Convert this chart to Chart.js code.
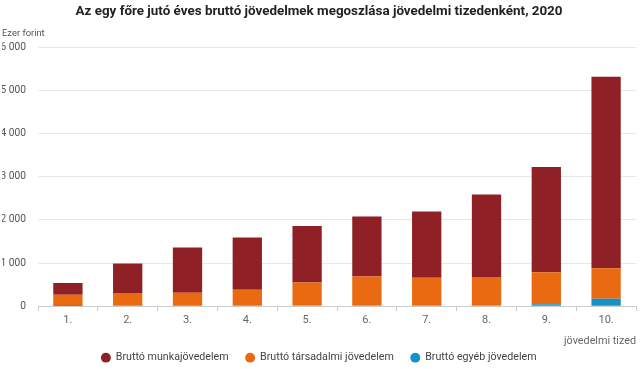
<!DOCTYPE html>
<html>
<head>
<meta charset="utf-8">
<script src="https://cdn.jsdelivr.net/npm/chart.js@4/dist/chart.umd.min.js"></script>
<style>
	html, body { margin: 0; padding: 0; background: #fff; }
	#wrap { width: 640px; height: 369px; }
</style>
</head>
<body>
<div id="wrap"><canvas id="incomeChart"></canvas></div>
<script>
// Adatok (ezer forint)
var deciles = ["1.", "2.", "3.", "4.", "5.", "6.", "7.", "8.", "9.", "10."];
var workIncome = [270, 684, 1046, 1210, 1309, 1389, 1537, 1917, 2442, 4442];
var socialIncome = [260, 294, 304, 371, 539, 670, 638, 652, 738, 706];
var otherIncome = [5, 8, 8, 10, 12, 20, 20, 22, 45, 170];
var yTicks = [0, 1000, 2000, 3000, 4000, 5000, 6000];

function fmt(v) {
	return String(v).replace(/\B(?=(\d{3})+(?!\d))/g, " ");
}

Chart.defaults.font.family = "Roboto, 'Noto Sans', sans-serif";
Chart.defaults.color = "#666";

var ctx = document.getElementById("incomeChart").getContext("2d");
new Chart(ctx, {
	type: "bar",
	data: {
		labels: deciles,
		datasets: [{
			label: "Bruttó munkajövedelem",
			data: workIncome,
			backgroundColor: "#8f2126",
			order: 3
		}, {
			label: "Bruttó társadalmi jövedelem",
			data: socialIncome,
			backgroundColor: "#e96a10",
			order: 2
		}, {
			label: "Bruttó egyéb jövedelem",
			data: otherIncome,
			backgroundColor: "#1591c9",
			order: 1
		}]
	},
	options: {
		responsive: true,
		maintainAspectRatio: false,
		animation: false,
		layout: { padding: { left: 2, right: 4, top: 2, bottom: -4 } },
		datasets: { bar: { barPercentage: 0.49, categoryPercentage: 1 } },
		plugins: {
			title: {
				display: true,
				text: "Az egy főre jutó éves bruttó jövedelmek megoszlása jövedelmi tizedenként, 2020",
				color: "#222",
				font: { size: 13.4, weight: "bold" },
				padding: { top: 2, bottom: 8 }
			},
			subtitle: {
				display: true,
				text: "Ezer forint",
				align: "start",
				color: "#555",
				font: { size: 9.4 },
				padding: { top: 0, bottom: 8 }
			},
			legend: {
				position: "bottom",
				labels: {
					usePointStyle: true,
					pointStyle: "circle",
					boxWidth: 9,
					boxHeight: 7,
					padding: 17,
					color: "#444",
					font: { size: 10.7 },
					sort: function (a, b) { return a.datasetIndex - b.datasetIndex; }
				}
			},
			tooltip: { enabled: false }
		},
		scales: {
			x: {
				stacked: true,
				grid: { drawOnChartArea: false, drawTicks: true, tickLength: 5, color: "#ccc" },
				border: { color: "#ccc" },
				ticks: { font: { size: 11 }, color: "#666", padding: 3 },
				title: {
					display: true,
					text: "jövedelmi tized",
					align: "end",
					font: { size: 10.8 },
					color: "#666",
					padding: { top: 4, bottom: -12 }
				}
			},
			y: {
				stacked: true,
				min: 0,
				max: 6000,
				afterBuildTicks: function (axis) {
					axis.ticks = yTicks.map(function (v) { return { value: v }; });
				},
				afterFit: function (axis) { axis.width = 36; },
				grid: { color: "#e8e8e8", drawTicks: false },
				border: { display: false },
				ticks: {
					padding: 12,
					font: { size: 10.2 },
					color: "#555",
					callback: function (v) { return fmt(v); }
				}
			}
		}
	}
});
</script>
</body>
</html>
